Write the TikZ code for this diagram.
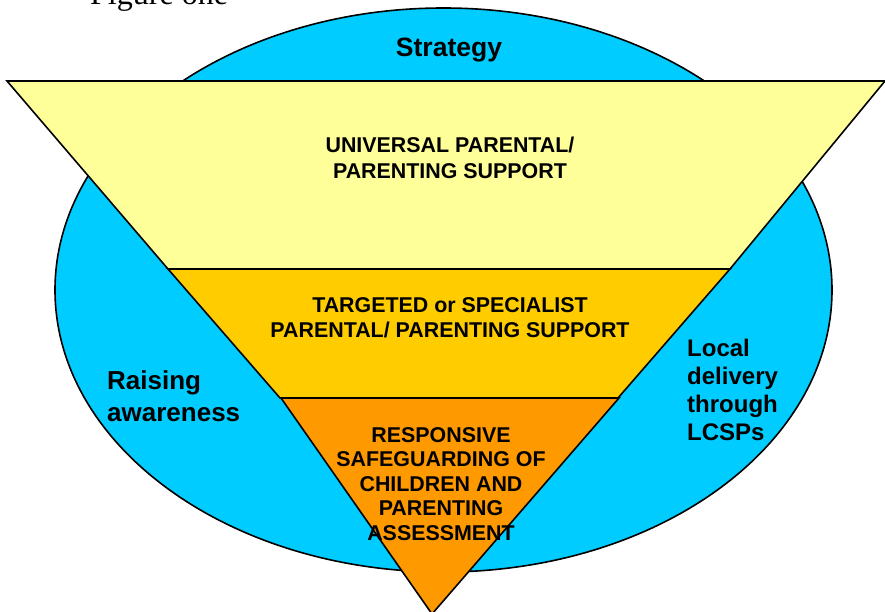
\documentclass[tikz,border=0pt]{standalone}
\usepackage{fontspec}
\setmainfont{Liberation Sans}
\newfontfamily\figfont{Liberation Serif}
\usepackage{xcolor}
\definecolor{Sky Blue}{HTML}{00CCFF}
\definecolor{Lemon}{HTML}{FFFF99}
\definecolor{Amber}{HTML}{FFCC00}
\definecolor{Tangerine}{HTML}{FF9900}
\colorlet{cOval}{Sky Blue}
\colorlet{c0}{Lemon}
\colorlet{c1}{Amber}
\colorlet{c2}{Tangerine}
\usetikzlibrary{positioning}
\tikzset{
	band/.style={
		draw,
		line width=1.6pt
	},
	tier label/.style={
		font=\bfseries\fontsize{21.4}{25}\selectfont,
		align=center,
		inner sep=0pt,
		anchor=base
	},
	side label/.style={
		font=\bfseries\fontsize{26}{32}\selectfont,
		align=left,
		inner sep=0pt,
		anchor=base west
	}
}

\begin{document}
\begin{tikzpicture}[x=1pt, y=-1pt]
\useasboundingbox (0,0) rectangle (885,612);
% ---
% oval behind the funnel
% ---
\draw[band, fill=cOval] (443.5,290) ellipse [x radius=388.5pt, y radius=282pt];

% ---
% funnel, top to bottom
% ---
\draw[band, fill=c0] (7,81) -- (885,81) -- (730,269) -- (168,269) -- cycle;
\draw[band, fill=c1] (168,269) -- (730,269) -- (618,398) -- (280,398) -- cycle;
\draw[band, fill=c2] (281,398) -- (619,398) -- (432,614) -- cycle;

% ---
% labels (multi-line nodes sit on their last baseline)
% ---
\node[anchor=base west, inner sep=0pt, font=\figfont\fontsize{32}{38}\selectfont] (fig-title) at (90,5) {Figure one};
\node[font=\bfseries\fontsize{26.5}{30}\selectfont, anchor=base, inner sep=0pt] (strategy) at (449,57) {Strategy};
\node[tier label, font=\bfseries\fontsize{21.4}{26}\selectfont] (tier-0) at (450,179) {UNIVERSAL PARENTAL/\\PARENTING SUPPORT};
\node[tier label] (tier-1) at (450,337) {TARGETED or SPECIALIST\\PARENTAL/ PARENTING SUPPORT};
\node[tier label, font=\bfseries\fontsize{21.4}{24.5}\selectfont] (tier-2) at (441,540) {RESPONSIVE\\SAFEGUARDING OF\\CHILDREN AND\\PARENTING\\ASSESSMENT};
\node[side label] (raising) at (107,421) {Raising\\awareness};
\node[side label, font=\bfseries\fontsize{24}{27.7}\selectfont] (local) at (687,440) {Local\\delivery\\through\\LCSPs};
\end{tikzpicture}
\end{document}
